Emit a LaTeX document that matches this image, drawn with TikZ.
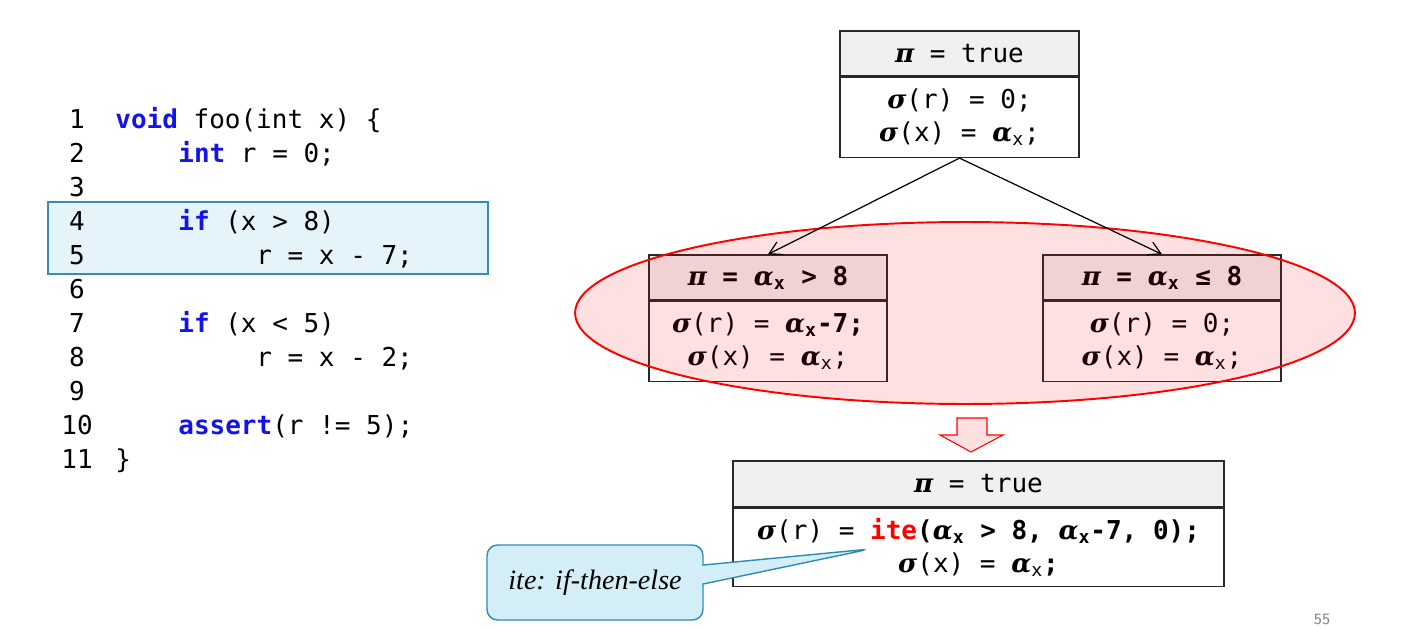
\documentclass[tikz,border=0pt]{standalone}
\usepackage{amsmath,amssymb}
\usepackage{fontspec}
\setmainfont{Liberation Serif}
\setmonofont{DejaVu Sans Mono}
\newfontfamily\grkfont{DejaVu Serif}
\usetikzlibrary{arrows.meta,shapes,positioning}

\definecolor{kwblue}{RGB}{20,20,230}
\definecolor{hlfill}{RGB}{229,244,250}
\definecolor{hledge}{RGB}{58,141,177}
\definecolor{tipfill}{RGB}{212,238,248}
\definecolor{tipedge}{RGB}{47,139,176}
\definecolor{boxedge}{RGB}{40,40,40}

\newcommand{\codefont}{\ttfamily\fontsize{14.8}{18.8}\selectfont}
\newcommand{\kw}[1]{\textcolor{kwblue}{\bfseries #1}}
\newcommand{\grk}[1]{{\grkfont\bfseries\itshape #1}}
\newcommand{\piv}{\grk{π}}
\newcommand{\sig}{\grk{σ}}
\newcommand{\alx}{\grk{α}\textsubscript{x}}

\begin{document}
\begin{tikzpicture}[x=0.02cm, y=-0.02cm, >=Stealth,
  code/.style={anchor=base west, inner sep=0, font=\codefont},
  lineno/.style={anchor=base, inner sep=0, font=\codefont},
  hdr/.style={draw=boxedge, line width=0.8pt, fill=gray!12, inner sep=0, minimum height=0.9cm, font=\codefont},
  bdy/.style={draw=boxedge, line width=0.8pt, fill=white, inner sep=0, minimum height=1.6cm, align=center, font=\codefont},
  flow/.style={-{Straight Barb[length=7pt, width=8pt]}, line width=0.7pt}]
  \useasboundingbox (0,0) rectangle (1426,629);

  % highlighted branch
  \draw[fill=hlfill, draw=hledge, line width=0.9pt] (48,202) rectangle (488,274);

  % source code
  \foreach \n in {1,...,11}
    \node[lineno] (n\n) at (77, 128+34*\n-34) {\n};
  \node[code] (c1)  at (115,128) {\kw{void} foo(int x) \{};
  \node[code] (c2)  at (178,162) {\kw{int} r = 0;};
  \node[code] (c4)  at (178,230) {\kw{if} (x > 8)};
  \node[code] (c5)  at (256,264) {r = x - 7;};
  \node[code] (c7)  at (178,332) {\kw{if} (x < 5)};
  \node[code] (c8)  at (256,366) {r = x - 2;};
  \node[code] (c10) at (178,434) {\kw{assert}(r != 5);};
  \node[code] (c11) at (115,468) {\}};

  % symbolic states
  \node[hdr, minimum width=4.78cm] (top-h) at (959.5,53.5) {\piv{} = true};
  \node[bdy, minimum width=4.78cm, below=0pt of top-h] (top-b) {\sig(r) = 0;\\\sig(x) = \alx;};

  \node[hdr, minimum width=4.76cm] (lt-h) at (768,277.5) {\bfseries\piv{} = \alx{} > 8};
  \node[bdy, minimum width=4.76cm, below=0pt of lt-h] (lt-b) {\sig(r) = {\bfseries\alx-7;}\\\sig(x) = \alx;};

  \node[hdr, minimum width=4.76cm] (rt-h) at (1162,277.5) {\bfseries\piv{} = \alx{} ≤ 8};
  \node[bdy, minimum width=4.76cm, below=0pt of rt-h] (rt-b) {\sig(r) = 0;\\\sig(x) = \alx;};

  % states to be merged
  \node[ellipse, draw=red, line width=1.1pt, fill=red, fill opacity=0.12, draw opacity=1,
        minimum width=15.6cm, minimum height=3.64cm] (grp) at (965,313) {};

  \draw[flow] (top-b.south) -- (lt-h.north);
  \draw[flow] (top-b.south) -- (rt-h.north);

  % merge arrow
  \draw[red, fill=red!12, line width=0.6pt] (957,418) -- (987,418) -- (987,435) -- (1003,435)
    -- (971,452) -- (940,435) -- (957,435) -- cycle;

  \node[hdr, minimum width=9.82cm, minimum height=0.92cm] (bot-h) at (978.5,484) {\piv{} = true};
  \node[bdy, minimum width=9.82cm, minimum height=1.56cm, below=0pt of bot-h] (bot-b)
    {\sig(r) = {\bfseries\textcolor{red}{ite}(\alx{} > 8, \alx-7, 0);}\\\sig(x) = \alx{\bfseries;}};

  % note on ite
  \coordinate (itept) at (870,549);
  \node[rectangle callout, callout absolute pointer={(itept)}, callout pointer width=0.38cm,
        rounded corners=6pt, draw=tipedge, fill=tipfill, line width=0.8pt,
        minimum width=4.32cm, minimum height=1.5cm,
        font=\itshape\fontsize{16}{18}\selectfont] (note) at (595,582.5) {ite: if-then-else};

  \node[text=gray, font=\sffamily\fontsize{9}{10}\selectfont] (pgno) at (1322,619) {55};
\end{tikzpicture}
\end{document}
